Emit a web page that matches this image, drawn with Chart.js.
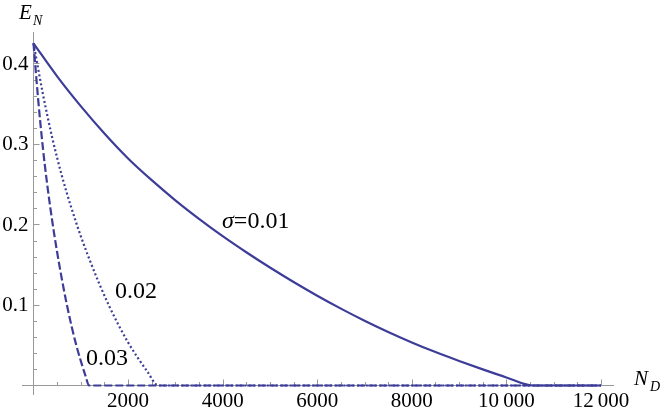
<!DOCTYPE html>
<html>
<head>
<meta charset="utf-8">
<script src="https://cdn.jsdelivr.net/npm/chart.js@4.4.1/dist/chart.umd.min.js"></script>
<style>
  html, body { margin: 0; padding: 0; background: #fff; }
  #wrap { width: 664px; height: 413px; position: relative; }
  #labels { position: absolute; left: 0; top: 0; width: 664px; height: 413px; pointer-events: none; }
  .t { position: absolute; white-space: nowrap; line-height: 1; color: #000;
       font-family: "Times New Roman", Tinos, "Liberation Serif", serif; }
  .tk { font-size: 21px; }
  .cx { transform: translateX(-50%); }
  .cl { font-size: 24px; }
  .sub { font-size: 14px; }
</style>
</head>
<body>
<div id="wrap">
  <canvas id="plot" width="664" height="413"></canvas>
  <div id="labels">
    <span class="t tk cx" style="left:128.1px;top:389.9px">2000</span>
    <span class="t tk cx" style="left:222.7px;top:389.9px">4000</span>
    <span class="t tk cx" style="left:317.2px;top:389.9px">6000</span>
    <span class="t tk cx" style="left:411.8px;top:389.9px">8000</span>
    <span class="t tk cx" style="left:506.4px;top:389.9px">10&#8201;000</span>
    <span class="t tk cx" style="left:601px;top:389.9px">12&#8201;000</span>
    <span class="t tk" style="right:635.5px;top:294.4px">0.1</span>
    <span class="t tk" style="right:635.5px;top:213.9px">0.2</span>
    <span class="t tk" style="right:635.5px;top:133.4px">0.3</span>
    <span class="t tk" style="right:635.5px;top:52.8px">0.4</span>
    <span class="t tk" style="left:19px;top:2.4px"><i>E</i></span>
    <span class="t sub" style="left:33px;top:14.3px"><i>N</i></span>
    <span class="t tk" style="left:634px;top:368.4px"><i>N</i></span>
    <span class="t sub" style="left:650px;top:380.3px"><i>D</i></span>
    <span class="t cl" style="left:222px;top:207.9px"><i>&sigma;</i>=0.01</span>
    <span class="t cl" style="left:115px;top:277.9px">0.02</span>
    <span class="t cl" style="left:86px;top:344.9px">0.03</span>
  </div>
</div>
<script>
// sigma = 0.01 (solid)
const nd001 = [0, 500, 1000, 1500, 2000, 2500, 3000, 3500, 4000, 4500, 5000, 5500, 6000,
               6500, 7000, 7500, 8000, 8500, 9000, 9500, 10000, 10555, 12000];
const en001 = [0.425, 0.384, 0.347, 0.313, 0.282, 0.255, 0.230, 0.207, 0.1855, 0.1655, 0.1465, 0.1285, 0.1115,
               0.0955, 0.0805, 0.0665, 0.0535, 0.0415, 0.0305, 0.020, 0.010, 0, 0];

// sigma = 0.02 (dotted)
const nd002 = [0, 200, 400, 600, 800, 1000, 1200, 1400, 1600, 1800, 2000, 2200, 2400, 2639, 12000];
const en002 = [0.425, 0.3618, 0.3068, 0.2604, 0.2208, 0.1855, 0.1541, 0.1251, 0.0987, 0.0749, 0.0535, 0.0349, 0.018, 0, 0];

// sigma = 0.03 (dashed)
const nd003 = [0, 100, 200, 300, 400, 500, 600, 700, 800, 900, 1000, 1100, 1173, 12000];
const en003 = [0.425, 0.3544, 0.2944, 0.245, 0.2027, 0.1655, 0.1321, 0.1019, 0.0749, 0.0511, 0.0305, 0.012, 0, 0];

const lineColor = "#3d3d99";
const axisColor = "#999999";

const pts = (xs, ys) => xs.map((x, i) => ({ x, y: ys[i] }));

// axes through the origin with inward ticks, Mathematica style
const axesPlugin = {
  id: "mmaAxes",
  beforeDatasetsDraw(chart) {
    const { ctx, scales: { x, y } } = chart;
    const x0 = x.getPixelForValue(0), y0 = y.getPixelForValue(0);
    ctx.save();
    ctx.strokeStyle = axisColor;
    ctx.lineWidth = 1;
    ctx.beginPath();
    ctx.moveTo(x.left, Math.round(y0) + 0.5); ctx.lineTo(x.right, Math.round(y0) + 0.5);
    ctx.moveTo(Math.round(x0) + 0.5, y.top); ctx.lineTo(Math.round(x0) + 0.5, y.bottom);
    ctx.stroke();

    // x ticks, minor every 500, major every 2000
    ctx.beginPath();
    for (let v = 500; v <= 12000; v += 500) {
      const px = Math.round(x.getPixelForValue(v)) + 0.5;
      const len = v % 2000 === 0 ? 6 : 3.5;
      ctx.moveTo(px, y0); ctx.lineTo(px, y0 - len);
    }
    // y ticks, minor every 0.02, major every 0.1
    for (let k = 1; k <= 21; k++) {
      const py = Math.round(y.getPixelForValue(k * 0.02)) + 0.5;
      const len = k % 5 === 0 ? 6 : 3.5;
      ctx.moveTo(x0, py); ctx.lineTo(x0 + len, py);
    }
    ctx.stroke();
    ctx.restore();
  }
};

const ds = (data, dash) => ({
  data,
  borderColor: lineColor,
  borderWidth: 2.2,
  borderDash: dash,
  pointRadius: 0,
  fill: false,
  cubicInterpolationMode: "monotone",
  clip: false,
});

new Chart(document.getElementById("plot"), {
  type: "line",
  data: {
    datasets: [
      ds(pts(nd001, en001), []),
      ds(pts(nd002, en002), [2, 2.5]),
      ds(pts(nd003, en003), [8, 3]),
    ],
  },
  options: {
    responsive: false,
    animation: false,
    devicePixelRatio: 1,
    layout: { padding: { left: 22, right: 50, top: 32, bottom: 18 } },
    plugins: { legend: { display: false }, tooltip: { enabled: false } },
    scales: {
      x: { type: "linear", min: -243, max: 12275, display: false },
      y: { type: "linear", min: -0.0118, max: 0.439, display: false },
    },
  },
  plugins: [axesPlugin],
});
</script>
</body>
</html>
